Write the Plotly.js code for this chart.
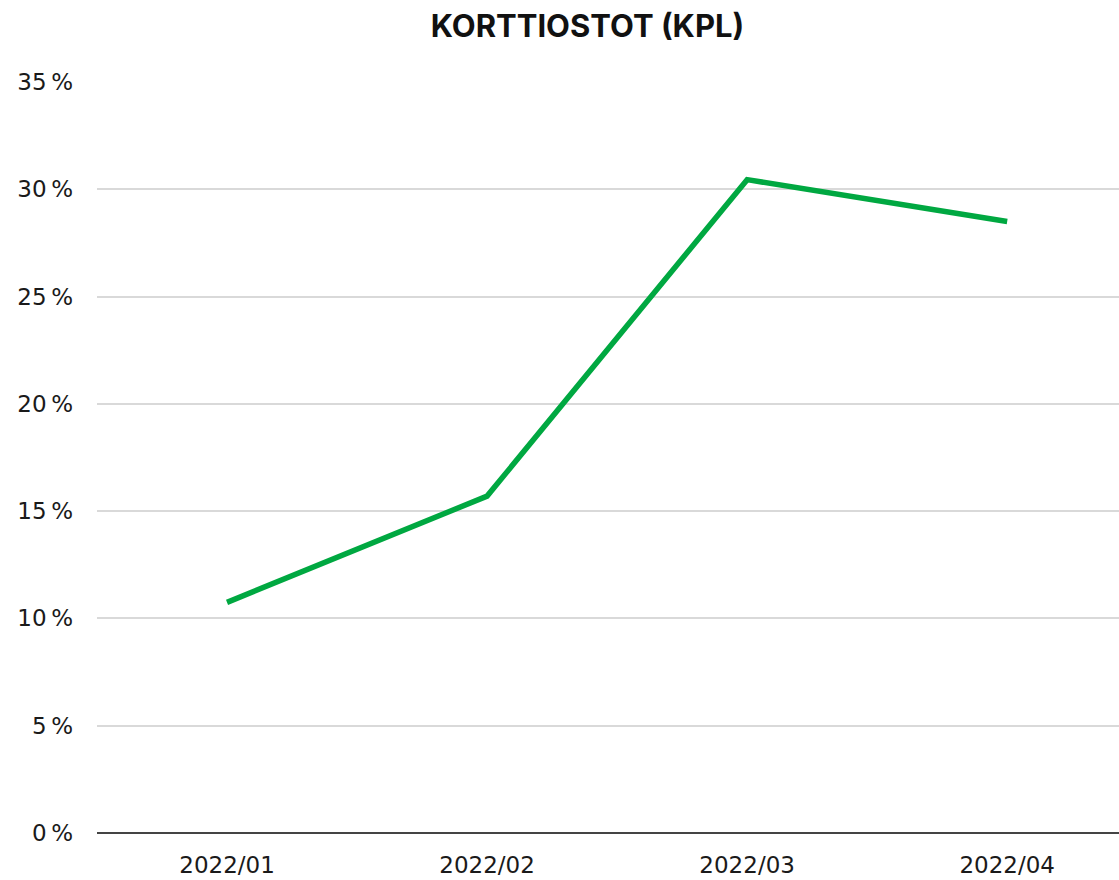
<!DOCTYPE html>
<html>
<head>
<meta charset="utf-8">
<script src="https://cdn.plot.ly/plotly-3.0.1.min.js"></script>
<style>html,body{margin:0;padding:0;background:#fff;}#chart{width:1119px;height:880px;}</style>
</head>
<body>
<div id="chart"></div>
<script>
const categories = ['2022/01', '2022/02', '2022/03', '2022/04'];
const values = [10.75, 15.7, 30.45, 28.5];
const yTicks = [0, 5, 10, 15, 20, 25, 30, 35];
const titleText = 'KORTTIOSTOT (KPL)';

const trace = {
  x: categories,
  y: values,
  type: 'scatter',
  mode: 'lines',
  line: {color: '#00a841', width: 5.5},
  hoverinfo: 'skip'
};

const tickFontFamily = '"DejaVu Sans", "Noto Sans", sans-serif';

const layout = {
  width: 1119,
  height: 880,
  margin: {l: 97, r: 0, t: 82, b: 47},
  paper_bgcolor: '#ffffff',
  plot_bgcolor: '#ffffff',
  showlegend: false,
  font: {family: tickFontFamily, color: '#1a1a1a', size: 23},
  title: {
    text: '<b>' + titleText + '</b>',
    font: {family: 'Inter, "Noto Sans", sans-serif', size: 31, color: '#111'},
    x: 0.525, xanchor: 'center', y: 0.97, yanchor: 'middle'
  },
  xaxis: {
    type: 'category',
    range: [-0.5, 3.43],
    showgrid: false,
    zeroline: false,
    showline: false,
    ticks: '',
    ticklabelstandoff: 16,
    tickfont: {family: tickFontFamily, size: 23, color: '#1a1a1a'},
    fixedrange: true
  },
  yaxis: {
    range: [0, 35],
    tickvals: yTicks,
    ticktext: yTicks.map(v => v + '\u2009%'),
    showgrid: true,
    gridcolor: '#d9d9d9',
    gridwidth: 2,
    zeroline: true,
    zerolinecolor: '#444444',
    zerolinewidth: 1.5,
    showline: false,
    ticks: '',
    ticklabelstandoff: 23,
    tickfont: {family: tickFontFamily, size: 23, color: '#1a1a1a'},
    fixedrange: true
  }
};

Plotly.newPlot('chart', [trace], layout, {displayModeBar: false, staticPlot: true});
</script>
</body>
</html>
